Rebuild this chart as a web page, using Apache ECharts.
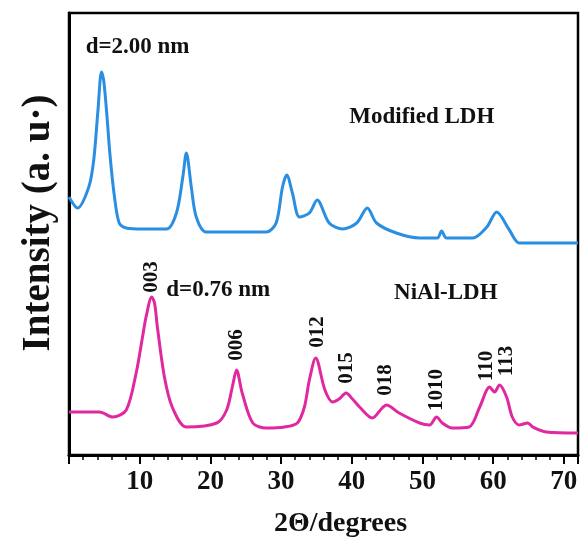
<!DOCTYPE html>
<html>
<head>
<meta charset="utf-8">
<script src="https://cdn.jsdelivr.net/npm/echarts@6/dist/echarts.min.js"></script>
<style>html,body{margin:0;padding:0;background:#fff}#c{width:582px;height:542px}</style>
</head>
<body>
<div id="c"></div>
<script>
// Modified LDH (blue) : [2theta, intensity]
const modifiedX = [0,1.2,2.8,3.5,4.1,4.6,4.9,5.3,5.8,6.4,7.1,8.1,10.5,13.8,15.2,16.1,16.6,17.3,18.0,19.4,23.5,27.9,29.3,30.2,30.8,31.6,32.6,34.0,35.1,36.8,38.7,40.7,42.2,43.5,46.3,49.6,52.1,52.7,53.4,57.1,59.1,60.5,62.3,63.7,68,72];
const modifiedY = [258,247,268,295,345,383,375,345,300,260,232,227,226,226,242,278,302,268,238,223,223,223,232,268,280,262,238,242,255,232,226,232,247,232,222,217,217,224,217,217,228,243,225,212,212,212];
// NiAl-LDH (magenta)
const nialX = [0,4.3,6.2,8.1,9.5,10.4,10.9,11.7,12.1,12.5,13.5,14.6,16.6,20.9,22.3,23.1,23.7,24.5,26.0,27.9,30.5,32.3,33.3,34.0,34.9,36.2,37.3,38.2,39.2,40.1,41.1,42.9,44.3,44.9,46.7,49.6,51.0,52.0,52.8,54.2,56.6,58.1,59.5,60.2,60.9,61.9,62.7,63.7,64.9,65.6,67.5,72];
const nialY = [43,43,38,45,82,118,138,158,152,128,78,48,28,32,45,68,85,62,32,27,28,32,48,75,97,65,53,56,62,56,48,37,47,50,42,32,30,38,32,27,28,48,68,63,70,58,38,30,32,28,23,22];
// x tick labels
const xTickValues = [10,20,30,40,50,60,70];
// peak index labels (rotated) : text, 2theta, intensity position
const peakText = ['003','006','012','015','018','1010','110','113'];
const peakX = [11.7,23.7,35.1,39.3,44.8,52.0,59.1,61.9];
const peakY = [178,110,123,87,75,65,89,94];
// other annotations
const noteText = ['d=2.00 nm','Modified LDH','NiAl-LDH','d=0.76 nm'];
const noteX = [9.7,49.9,53.3,21.1];
const noteY = [408,338,162,165];

const FONT = 'Liberation Serif';
const chart = echarts.init(document.getElementById('c'));
const zip = (a,b)=>a.map((v,i)=>[v,b[i]]);
chart.setOption({
  animation:false,
  backgroundColor:'#fff',
  grid:{left:69,right:4,top:13,bottom:87,outerBoundsMode:'none',containLabel:false,show:true,borderColor:'#000',borderWidth:2.5,backgroundColor:'transparent'},
  xAxis:{
    type:'value',min:0,max:72,interval:10,
    axisLine:{show:true,lineStyle:{color:'#000',width:3}},
    axisTick:{show:true,length:9,lineStyle:{color:'#000',width:2}},
    minorTick:{show:true,splitNumber:5,length:5,lineStyle:{color:'#000',width:1.5}},
    splitLine:{show:false},
    axisLabel:{margin:14,color:'#111',fontFamily:FONT,fontWeight:'bold',fontSize:27,
      formatter:v=>xTickValues.indexOf(v)>=0?String(v):''},
    name:'2\u0398/degrees',nameLocation:'middle',nameGap:55,
    nameTextStyle:{color:'#111',fontFamily:FONT,fontWeight:'bold',fontSize:28,verticalAlign:'top',padding:[0,0,0,34]}
  },
  yAxis:{
    type:'value',min:0,max:442,
    axisLine:{show:true,lineStyle:{color:'#000',width:3}},
    axisTick:{show:false},axisLabel:{show:false},splitLine:{show:false},
    name:'Intensity (a. u\u00b7)',nameLocation:'middle',nameGap:11,nameRotate:90,
    nameTextStyle:{color:'#111',fontFamily:FONT,fontWeight:'bold',fontSize:39,padding:[0,0,0,22]}
  },
  series:[
    {type:'line',data:zip(modifiedX,modifiedY),smooth:0.3,showSymbol:false,lineStyle:{color:'#2a8fe2',width:3}},
    {type:'line',data:zip(nialX,nialY),smooth:0.3,showSymbol:false,lineStyle:{color:'#e0289f',width:3}}
  ]
});
const g = [];
peakText.forEach((t,i)=>{
  const p = chart.convertToPixel({gridIndex:0},[peakX[i],peakY[i]]);
  g.push({type:'text',x:p[0],y:p[1],rotation:Math.PI/2,
    style:{text:t,fill:'#111',font:'bold 21px "'+FONT+'"',textAlign:'center',textVerticalAlign:'middle'}});
});
noteText.forEach((t,i)=>{
  const p = chart.convertToPixel({gridIndex:0},[noteX[i],noteY[i]]);
  g.push({type:'text',x:p[0],y:p[1],
    style:{text:t,fill:'#111',font:'bold 23px "'+FONT+'"',textAlign:'center',textVerticalAlign:'middle'}});
});
chart.setOption({graphic:g});
</script>
</body>
</html>
